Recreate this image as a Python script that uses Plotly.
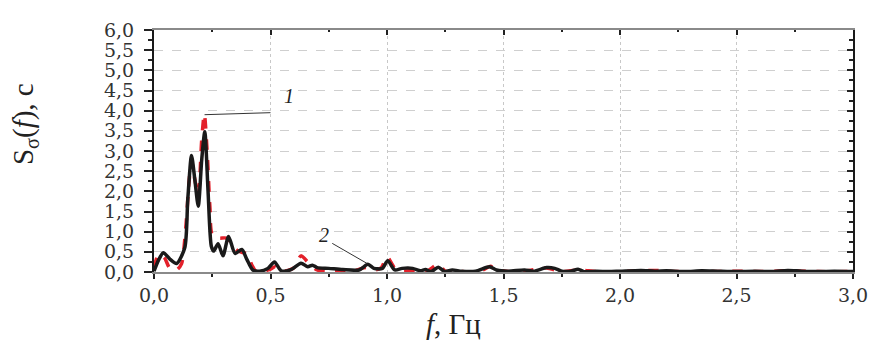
import plotly.graph_objects as go

# ---- data ----
freq_black = [0.000, 0.020, 0.040, 0.068, 0.097, 0.132, 0.145, 0.161, 0.175, 0.190,
              0.205, 0.218, 0.232, 0.246, 0.256, 0.275, 0.296, 0.320, 0.348, 0.377,
              0.398, 0.424, 0.453, 0.489, 0.517, 0.546, 0.588, 0.631, 0.660, 0.680,
              0.700, 0.750, 0.810, 0.880, 0.918, 0.944, 0.980, 1.003, 1.033, 1.065,
              1.110, 1.144, 1.165, 1.190, 1.220, 1.248, 1.280, 1.320, 1.380, 1.440,
              1.470, 1.520, 1.590, 1.630, 1.685, 1.720, 1.750, 1.790, 1.820, 1.845,
              1.900, 1.950, 2.000, 2.090, 2.150, 2.200, 2.280, 2.350, 2.420, 2.500,
              2.580, 2.650, 2.720, 2.780, 2.850, 2.920, 3.000]
s_black = [0.02, 0.30, 0.48, 0.32, 0.21, 0.60, 1.80, 2.89, 2.30, 1.63,
           2.80, 3.48, 2.00, 0.64, 0.52, 0.70, 0.40, 0.88, 0.46, 0.56,
           0.32, 0.05, 0.02, 0.09, 0.25, 0.03, 0.06, 0.22, 0.13, 0.17,
           0.11, 0.09, 0.06, 0.05, 0.19, 0.09, 0.09, 0.28, 0.05, 0.09,
           0.09, 0.03, 0.06, 0.01, 0.12, 0.01, 0.05, 0.02, 0.02, 0.13,
           0.05, 0.02, 0.05, 0.02, 0.11, 0.09, 0.02, 0.02, 0.07, 0.01,
           0.02, 0.01, 0.02, 0.04, 0.02, 0.03, 0.01, 0.03, 0.02, 0.01,
           0.02, 0.01, 0.04, 0.02, 0.01, 0.02, 0.01]

freq_red = [0.000, 0.020, 0.045, 0.068, 0.097, 0.118, 0.135, 0.150, 0.161, 0.175,
            0.190, 0.205, 0.216, 0.228, 0.240, 0.250, 0.280, 0.310, 0.340, 0.360,
            0.400, 0.420, 0.440, 0.496, 0.520, 0.550, 0.600, 0.631, 0.667, 0.700,
            0.740, 0.800, 0.860, 0.910, 0.945, 0.975, 1.000, 1.030, 1.060, 1.120,
            1.170, 1.220, 1.250, 1.320, 1.400, 1.445, 1.475, 1.520, 1.600, 1.685,
            1.750, 1.820, 1.900, 2.000, 2.150, 2.250, 2.400, 2.500, 2.600, 2.720,
            2.850, 3.000]
s_red = [0.10, 0.44, 0.35, 0.09, 0.05, 0.20, 1.00, 2.20, 2.75, 2.30,
         1.90, 3.30, 3.92, 3.00, 1.60, 0.92, 0.84, 0.84, 0.62, 0.52,
         0.44, 0.17, 0.01, 0.06, 0.13, 0.02, 0.10, 0.40, 0.20, 0.05,
         0.02, 0.03, 0.04, 0.11, 0.05, 0.10, 0.38, 0.12, 0.02, 0.04,
         0.02, 0.19, 0.02, 0.01, 0.02, 0.14, 0.06, 0.01, 0.03, 0.10,
         0.01, 0.05, 0.01, 0.01, 0.04, 0.01, 0.01, 0.02, 0.01, 0.03,
         0.01, 0.01]

x_ticks = [0.0, 0.5, 1.0, 1.5, 2.0, 2.5, 3.0]
x_tick_text = ["0,0", "0,5", "1,0", "1,5", "2,0", "2,5", "3,0"]
y_ticks = [0.0, 0.5, 1.0, 1.5, 2.0, 2.5, 3.0, 3.5, 4.0, 4.5, 5.0, 5.5, 6.0]
y_tick_text = ["0,0", "0,5", "1,0", "1,5", "2,0", "2,5", "3,0", "3,5",
               "4,0", "4,5", "5,0", "5,5", "6,0"]

label_1 = "1"
label_2 = "2"

TICK_FONT = dict(family="DejaVu Serif", size=19, color="#333333")

fig = go.Figure()
fig.add_trace(go.Scatter(x=freq_red, y=s_red, mode="lines",
                         line=dict(color="#e3202a", width=3.5, dash="dash",
                                   shape="spline", smoothing=0.7),
                         hoverinfo="skip", showlegend=False))
fig.add_trace(go.Scatter(x=freq_black, y=s_black, mode="lines",
                         line=dict(color="#1a1a1a", width=3.5,
                                   shape="spline", smoothing=0.7),
                         hoverinfo="skip", showlegend=False))
# helper trace so the mirrored (top/right) axes are drawn
fig.add_trace(go.Scatter(x=[None], y=[None], xaxis="x2", yaxis="y2",
                         mode="lines", hoverinfo="skip", showlegend=False))

# the page body adds an 8px offset, so the figure is 8px smaller than the window
fig.update_layout(
    width=871, height=335,
    margin=dict(l=146, r=22, t=11, b=71),
    paper_bgcolor="white", plot_bgcolor="white",
    xaxis=dict(range=[0, 3], tickvals=x_ticks, ticktext=x_tick_text,
               tickfont=TICK_FONT, ticks="outside", ticklen=5, tickwidth=2,
               tickcolor="#222", ticklabelstandoff=0, ticklabeloverflow="allow",
               minor=dict(dtick=0.25, tick0=0, ticks="outside", ticklen=3,
                          tickwidth=2, tickcolor="#222", showgrid=False),
               showgrid=True, gridcolor="#c8c8c8", griddash="dot", gridwidth=1.2,
               zeroline=False, showline=True, linecolor="#8a8a8a", linewidth=2),
    xaxis2=dict(range=[0, 3], overlaying="x", side="top", anchor="y",
                tickvals=x_ticks, showticklabels=False, ticks="inside",
                ticklen=5, tickwidth=2, tickcolor="#222",
                minor=dict(dtick=0.25, tick0=0, ticks="inside", ticklen=2,
                           tickwidth=2, tickcolor="#222", showgrid=False),
                showgrid=False, zeroline=False, showline=True,
                linecolor="#8a8a8a", linewidth=2),
    yaxis=dict(range=[0, 6], tickvals=y_ticks, ticktext=y_tick_text,
               tickfont=TICK_FONT, ticks="outside", ticklen=8, tickwidth=1.5,
               tickcolor="#222", ticklabelstandoff=6, ticklabeloverflow="allow",
               minor=dict(dtick=0.25, tick0=0, ticks="outside", ticklen=4,
                          tickwidth=1.5, tickcolor="#222", showgrid=False),
               showgrid=True, gridcolor="#cfcfcf", griddash="dash", gridwidth=1.2,
               zeroline=False, showline=True, linecolor="#1a1a1a", linewidth=2),
    yaxis2=dict(range=[0, 6], overlaying="y", side="right", anchor="x",
                tickvals=y_ticks, showticklabels=False, ticks="inside",
                ticklen=6, tickwidth=1.5, tickcolor="#222",
                minor=dict(dtick=0.25, tick0=0, ticks="inside", ticklen=4,
                           tickwidth=1.5, tickcolor="#222", showgrid=False),
                showgrid=False, zeroline=False, showline=True,
                linecolor="#1a1a1a", linewidth=2),
)

# curve labels and leader lines
fig.add_shape(type="line", xref="x", yref="y", x0=0.217, y0=3.9, x1=0.50, y1=3.95,
              line=dict(color="#333", width=1))
fig.add_shape(type="line", xref="x", yref="y", x0=0.765, y0=0.71, x1=0.915, y1=0.21,
              line=dict(color="#333", width=1))
fig.add_annotation(x=0.58, y=4.36, xref="x", yref="y", text="<i>" + label_1 + "</i>",
                   showarrow=False,
                   font=dict(family="Liberation Serif", size=20, color="#222"),
                   xanchor="center", yanchor="middle")
fig.add_annotation(x=0.73, y=0.92, xref="x", yref="y", text="<i>" + label_2 + "</i>",
                   showarrow=False,
                   font=dict(family="Liberation Serif", size=20, color="#222"),
                   xanchor="center", yanchor="middle")

# axis titles
fig.add_annotation(x=-0.1835, y=0.61, xref="paper", yref="paper",
                   text="S<sub>σ</sub>(<i>f</i>), c", textangle=-90, showarrow=False,
                   font=dict(family="Liberation Serif", size=29, color="#222"),
                   xanchor="center", yanchor="middle")
fig.add_annotation(x=1.286, y=-0.215, xref="x", yref="paper",
                   text="<i>f</i>, Гц", showarrow=False,
                   font=dict(family="Liberation Serif", size=29, color="#222"),
                   xanchor="center", yanchor="middle")

fig.write_html("out.html")
